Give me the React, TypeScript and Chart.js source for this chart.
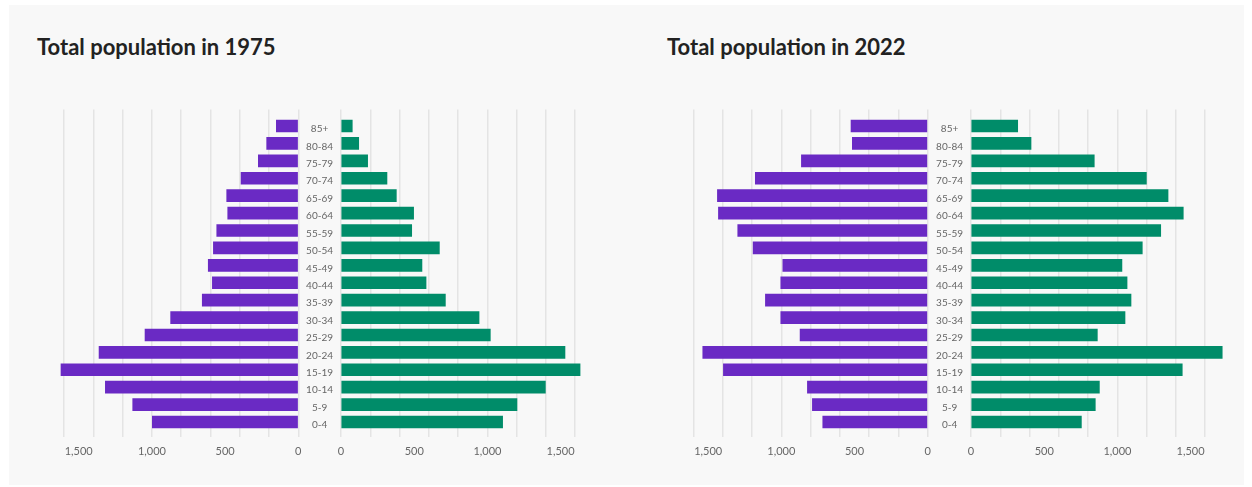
import React, { useEffect, useRef } from "react";
import { Chart, registerables } from "chart.js";

Chart.register(...registerables);

const ages = ["85+", "80-84", "75-79", "70-74", "65-69", "60-64", "55-59", "50-54", "45-49", "40-44", "35-39", "30-34", "25-29", "20-24", "15-19", "10-14", "5-9", "0-4"];
const male1975 = [150, 216, 273, 391, 489, 482, 557, 580, 615, 587, 656, 872, 1047, 1361, 1621, 1318, 1131, 997];
const female1975 = [77, 121, 182, 314, 378, 496, 483, 672, 553, 581, 713, 943, 1020, 1530, 1633, 1396, 1202, 1104];
const male2022 = [524, 515, 863, 1178, 1437, 1430, 1298, 1193, 990, 1004, 1109, 1004, 872, 1537, 1396, 822, 788, 717];
const female2022 = [319, 410, 842, 1198, 1346, 1450, 1296, 1170, 1031, 1066, 1093, 1052, 863, 1717, 1443, 877, 849, 754];
const gridValues = [0, 200, 400, 600, 800, 1000, 1200, 1400, 1600];
const tickLabelValues = [0, 500, 1000, 1500];
const titles = ["Total population in 1975", "Total population in 2022"];

const AXIS_MAX = 1720;
const PURPLE = "#6a2ac4";
const GREEN = "#008c69";
const FONT = "Lato";

type HalfProps = {
  values: number[];
  color: string;
  female: boolean;
  left: number;
  width: number;
  padL: number;
  padR: number;
};

function Half({ values, color, female, left, width, padL, padR }: HalfProps) {
  const ref = useRef<HTMLCanvasElement | null>(null);
  const height = 367;
  useEffect(() => {
    if (!ref.current) return;
    const allTicks = Array.from(new Set([...gridValues, ...tickLabelValues])).sort((a, b) => a - b);
    const chart = new Chart(ref.current, {
      type: "bar",
      data: {
        datasets: [
          {
            data: values.map((v, i) => ({ x: v, y: i })),
            backgroundColor: color,
            barThickness: 12,
            borderWidth: 0,
          } as any,
        ],
      },
      options: {
        indexAxis: "y",
        animation: false,
        responsive: false,
        maintainAspectRatio: false,
        layout: { padding: { top: 9.5, bottom: 0, left: padL, right: padR } },
        plugins: { legend: { display: false }, tooltip: { enabled: false } },
        scales: {
          x: {
            type: "linear",
            min: 0,
            max: AXIS_MAX,
            bounds: "data",
            offset: false,
            reverse: !female,
            afterBuildTicks: (axis: any) => {
              axis.ticks = allTicks.map((v) => ({ value: v }));
            },
            afterFit: (s: any) => {
              s.height = 30;
            },
            grid: {
              offset: false,
              drawTicks: false,
              lineWidth: 1.5,
              color: (ctx: any) =>
                ctx.tick && gridValues.includes(ctx.tick.value) ? "#e4e4e4" : "rgba(0,0,0,0)",
            },
            border: { display: false },
            ticks: {
              autoSkip: false,
              maxRotation: 0,
              padding: 8,
              color: "#666",
              font: { family: FONT, size: 11 },
              callback: (v: any) =>
                tickLabelValues.includes(Number(v)) ? Number(v).toLocaleString("en-US") : "",
            },
          },
          y: {
            type: "linear",
            min: -0.95,
            max: 17.86,
            bounds: "data",
            offset: false,
            reverse: true,
            display: female,
            position: "left",
            afterBuildTicks: (axis: any) => {
              axis.ticks = ages.map((_, i) => ({ value: i }));
            },
            afterFit: (s: any) => {
              s.width = female ? 43 : 0;
            },
            grid: { display: false, offset: false },
            border: { display: false },
            ticks: {
              autoSkip: false,
              crossAlign: "center",
              padding: 0,
              labelOffset: 3,
              color: "#666",
              font: { family: FONT, size: 10 },
              callback: (v: any) => ages[Number(v)] ?? "",
            },
          },
        },
      } as any,
    });
    return () => chart.destroy();
  }, []);
  return (
    <canvas
      ref={ref}
      width={width}
      height={height}
      style={{ position: "absolute", left, top: 100, width, height }}
    />
  );
}

const titleStyle: React.CSSProperties = {
  position: "absolute",
  top: 36,
  fontFamily: FONT,
  fontWeight: 700,
  fontSize: 22,
  lineHeight: "22px",
  color: "#222",
  whiteSpace: "nowrap",
};

export default function App() {
  return (
    <div style={{ position: "absolute", left: 0, top: 0, width: 1252, height: 487, background: "#fff" }}>
      <div style={{ position: "absolute", left: 9, top: 5, width: 1235, height: 480, background: "#f8f8f8" }} />
      <div style={{ ...titleStyle, left: 37 }}>{titles[0]}</div>
      <div style={{ ...titleStyle, left: 667 }}>{titles[1]}</div>
      <Half values={male1975} color={PURPLE} female={false} left={36} width={270} padL={10.5} padR={7.7} />
      <Half values={female1975} color={GREEN} female={true} left={296} width={306} padL={2} padR={9.2} />
      <Half values={male2022} color={PURPLE} female={false} left={666} width={270} padL={10} padR={8.3} />
      <Half values={female2022} color={GREEN} female={true} left={926} width={306} padL={2} padR={9.2} />
    </div>
  );
}
